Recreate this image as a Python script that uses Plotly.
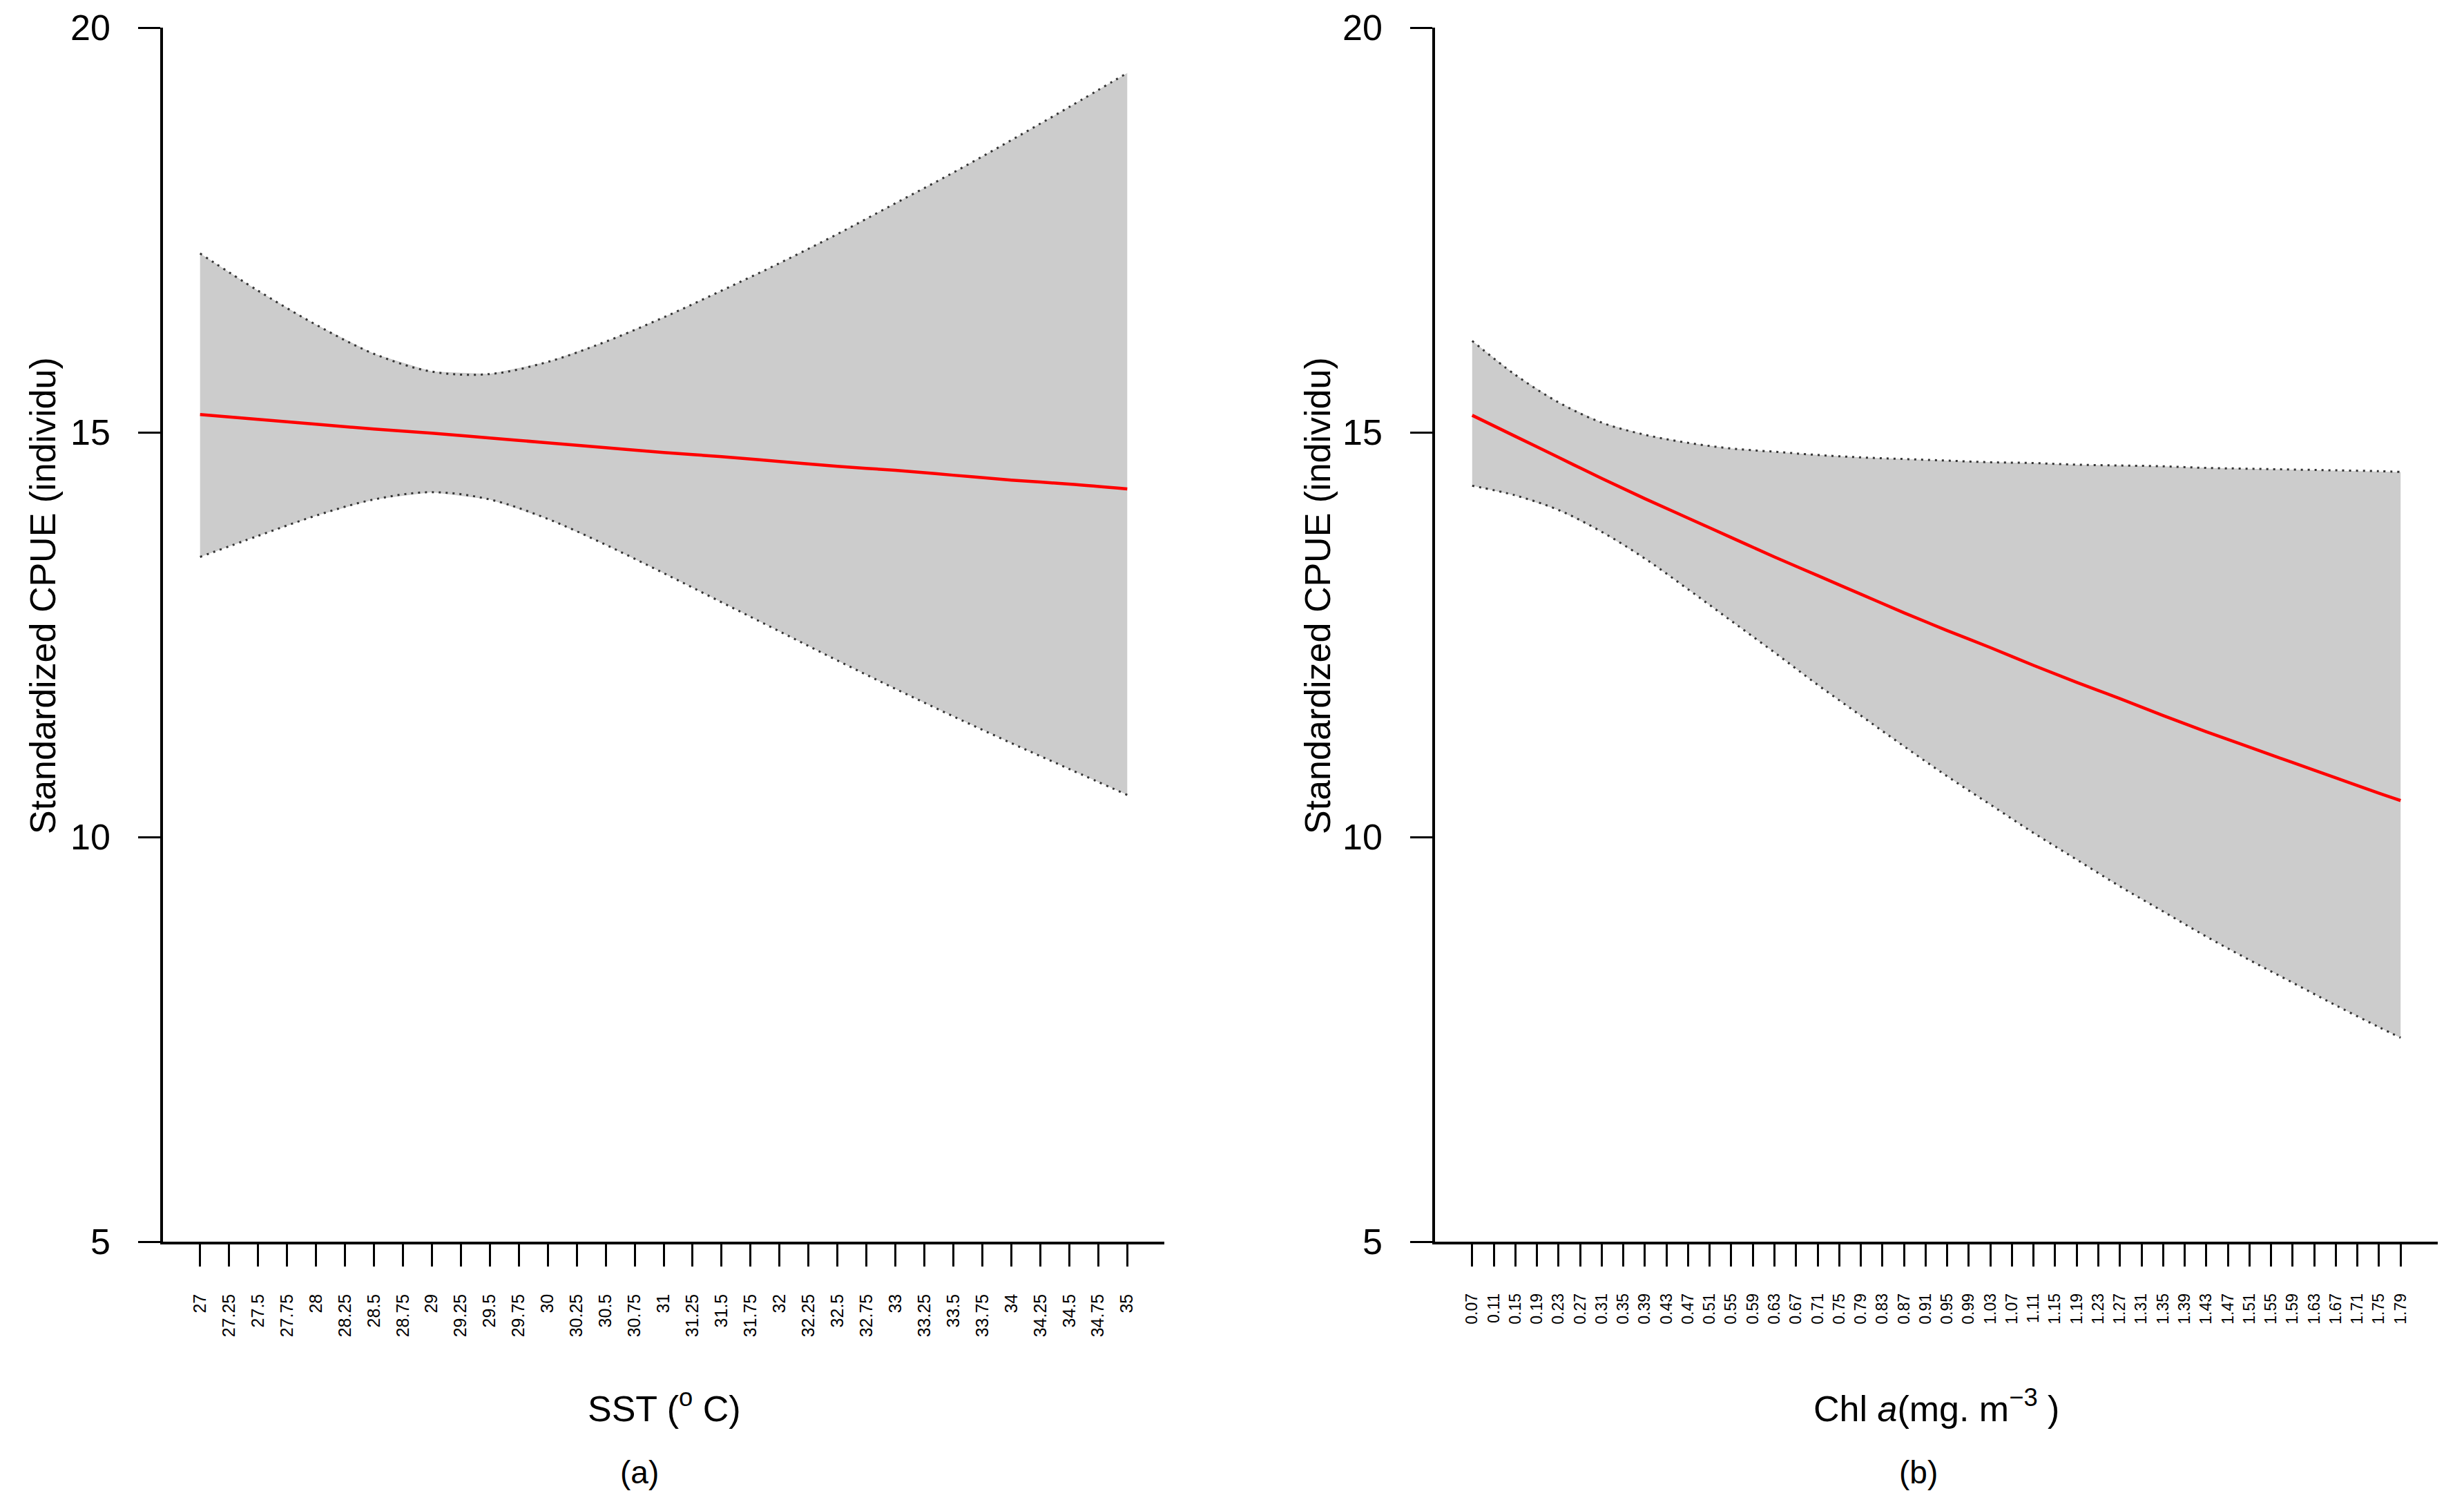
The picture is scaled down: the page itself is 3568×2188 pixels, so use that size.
import plotly.graph_objects as go

# ---------------- data ----------------
sst_x = [27, 27.5, 28, 28.5, 29, 29.5, 30, 30.5, 31, 31.5, 32, 32.5, 33, 33.5, 34, 34.5, 35]
sst_fit = [15.22, 15.16, 15.10, 15.04, 14.99, 14.93, 14.87, 14.81, 14.75, 14.70, 14.64, 14.58, 14.53, 14.47, 14.41, 14.36, 14.30]
sst_upper = [17.21, 16.75, 16.33, 15.97, 15.75, 15.72, 15.87, 16.12, 16.42, 16.75, 17.09, 17.45, 17.83, 18.21, 18.61, 19.02, 19.44]
sst_lower = [13.46, 13.72, 13.97, 14.17, 14.26, 14.17, 13.93, 13.61, 13.26, 12.90, 12.54, 12.18, 11.83, 11.49, 11.16, 10.84, 10.52]

chl_x = [0.07, 0.15, 0.23, 0.31, 0.39, 0.47, 0.55, 0.63, 0.71, 0.79, 0.87, 0.95, 1.03,
         1.11, 1.19, 1.27, 1.35, 1.43, 1.51, 1.59, 1.67, 1.75, 1.79]
chl_fit = [15.21, 14.95, 14.69, 14.43, 14.18, 13.94, 13.70, 13.46, 13.23, 13.00, 12.77, 12.55, 12.34,
           12.12, 11.91, 11.71, 11.50, 11.30, 11.11, 10.92, 10.73, 10.54, 10.45]
chl_upper = [16.13, 15.71, 15.37, 15.12, 14.97, 14.87, 14.80, 14.76, 14.72, 14.69, 14.67, 14.65, 14.63,
             14.62, 14.60, 14.59, 14.58, 14.56, 14.55, 14.54, 14.53, 14.52, 14.51]
chl_lower = [14.34, 14.22, 14.04, 13.77, 13.44, 13.06, 12.67, 12.28, 11.88, 11.50, 11.12, 10.75, 10.40,
             10.05, 9.72, 9.39, 9.08, 8.77, 8.48, 8.20, 7.92, 7.65, 7.52]

sst_ticks = ["27", "27.25", "27.5", "27.75", "28", "28.25", "28.5", "28.75", "29", "29.25", "29.5",
             "29.75", "30", "30.25", "30.5", "30.75", "31", "31.25", "31.5", "31.75", "32", "32.25",
             "32.5", "32.75", "33", "33.25", "33.5", "33.75", "34", "34.25", "34.5", "34.75", "35"]
chl_ticks = ["0.07", "0.11", "0.15", "0.19", "0.23", "0.27", "0.31", "0.35", "0.39", "0.43", "0.47",
             "0.51", "0.55", "0.59", "0.63", "0.67", "0.71", "0.75", "0.79", "0.83", "0.87", "0.91",
             "0.95", "0.99", "1.03", "1.07", "1.11", "1.15", "1.19", "1.23", "1.27", "1.31", "1.35",
             "1.39", "1.43", "1.47", "1.51", "1.55", "1.59", "1.63", "1.67", "1.71", "1.75", "1.79"]
y_ticks = [5, 10, 15, 20]

y_title = "Standardized CPUE (individu)"
sst_title = "SST (<sup>o</sup> C)"
chl_title = "Chl <i>a</i>(mg. m<sup>\u22123</sup> )"

# ---------------- figure ----------------
W, H = 3568, 2188
OFF = 8  # page body margin in the browser
FONT = "Liberation Sans, Arial, Helvetica, sans-serif"


def px(v):
    return (v - OFF) / W


def py(v):
    return 1 - (v - OFF) / H


fig = go.Figure()


def add_panel(x, fit, up, lo, xa, ya):
    fig.add_trace(go.Scatter(x=list(x) + list(x)[::-1], y=list(up) + list(lo)[::-1],
                             fill="toself", fillcolor="#CCCCCC", line=dict(width=0),
                             mode="lines", hoverinfo="skip", xaxis=xa, yaxis=ya, showlegend=False))
    for b in (up, lo):
        fig.add_trace(go.Scatter(x=x, y=b, mode="lines",
                                 line=dict(color="#333333", width=3, dash="3px,7px", shape="spline"),
                                 xaxis=xa, yaxis=ya, showlegend=False))
    fig.add_trace(go.Scatter(x=x, y=fit, mode="lines", line=dict(color="#FF0000", width=4.5, shape="spline"),
                             xaxis=xa, yaxis=ya, showlegend=False))


add_panel(sst_x, sst_fit, sst_upper, sst_lower, "x", "y")
add_panel(chl_x, chl_fit, chl_upper, chl_lower, "x2", "y2")

ydom = [py(1798), py(40)]
axis_common = dict(showline=True, linecolor="black", linewidth=3.5, ticks="outside", ticklen=32,
                   tickwidth=3, tickcolor="black", showgrid=False, zeroline=False, mirror=False,
                   automargin=False)

fig.update_layout(
    template="none",
    width=W, height=H, margin=dict(l=0, r=0, t=0, b=0, pad=0), autosize=False,
    paper_bgcolor="white", plot_bgcolor="white",
    font=dict(family=FONT, color="black"),
    showlegend=False,
    xaxis=dict(domain=[px(236), px(1686)], range=[26.68, 35.32], tickvals=[float(t) for t in sst_ticks],
               ticktext=sst_ticks, tickangle=-90, tickfont=dict(size=25), ticklabelstandoff=30,
               anchor="y", **axis_common),
    yaxis=dict(domain=ydom, range=[5, 20], tickvals=y_ticks, tickfont=dict(size=52), ticklabelstandoff=30,
               anchor="x", **axis_common),
    xaxis2=dict(domain=[px(2078), px(3530)], range=[0.0012, 1.8588], tickvals=[float(t) for t in chl_ticks],
                ticktext=chl_ticks, tickangle=-90, tickfont=dict(size=23), ticklabelstandoff=30,
                anchor="y2", **axis_common),
    yaxis2=dict(domain=ydom, range=[5, 20], tickvals=y_ticks, tickfont=dict(size=52), ticklabelstandoff=30,
                anchor="x2", **axis_common),
)

ann = [
    dict(text=y_title, x=px(62), y=py(863), textangle=-90, font=dict(size=52)),
    dict(text=y_title, x=px(1908), y=py(863), textangle=-90, font=dict(size=52)),
    dict(text=sst_title, x=px(962), y=py(2036), font=dict(size=52)),
    dict(text=chl_title, x=px(2804), y=py(2036), font=dict(size=52)),
    dict(text="(a)", x=px(926), y=py(2132), font=dict(size=46)),
    dict(text="(b)", x=px(2778), y=py(2132), font=dict(size=46)),
]
for a in ann:
    fig.add_annotation(xref="paper", yref="paper", showarrow=False, xanchor="center", yanchor="middle", **a)

fig.write_html("out.html")
